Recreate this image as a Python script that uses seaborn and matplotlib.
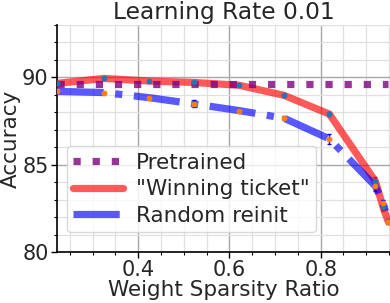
import numpy as np
import pandas as pd
import matplotlib
matplotlib.use("Agg")
import matplotlib.pyplot as plt
from matplotlib.ticker import MultipleLocator
import seaborn as sns

sparsity = [0.223, 0.325, 0.424, 0.522, 0.621, 0.72, 0.819, 0.92, 0.937, 0.948]
pretrained = [89.6] * 10
winning = [89.66, 89.94, 89.79, 89.71, 89.55, 88.97, 87.9, 84.05, 82.55, 81.75]
winning_err = [0.05, 0.05, 0.08, 0.06, 0.05, 0.07, 0.1, 0.25, 0.15, 0.15]
reinit = [89.2, 89.13, 88.84, 88.48, 88.1, 87.66, 86.48, 83.77, 82.82, 81.74]
reinit_err = [0.05, 0.06, 0.06, 0.2, 0.08, 0.1, 0.3, 0.3, 0.15, 0.12]

df = pd.DataFrame({
    "sparsity": sparsity,
    "pretrained": pretrained,
    "winning": winning,
    "reinit": reinit,
})

sns.set_style("whitegrid")
plt.rcParams["font.family"] = ["DejaVu Sans"]

fig = plt.figure(figsize=(3.9, 3.03), dpi=100)
ax = fig.add_axes([57 / 390, 51 / 303, 333 / 390, 227 / 303])

sns.lineplot(data=df, x="sparsity", y="winning", ax=ax, color="#ff0000", alpha=0.65,
             linewidth=5.2, label='"Winning ticket"', zorder=3)
sns.lineplot(data=df, x="sparsity", y="pretrained", ax=ax, color="#800080", alpha=0.8,
             linewidth=5.2, linestyle=":", label="Pretrained", zorder=4)
sns.lineplot(data=df, x="sparsity", y="reinit", ax=ax, color="#0000ff", alpha=0.65,
             linewidth=5.2, linestyle="-.", label="Random reinit", zorder=3)

ax.errorbar(df["sparsity"], df["winning"], yerr=winning_err, fmt="o", ms=3.2,
            color="#1f77b4", ecolor="#ff0000", capsize=1.5, elinewidth=1, zorder=5)
ax.errorbar(df["sparsity"], df["reinit"], yerr=reinit_err, fmt="o", ms=3.2,
            color="#ff7f0e", ecolor="#0000ff", capsize=1.5, elinewidth=1, zorder=5)

ax.set_xlim(0.222, 0.952)
ax.set_ylim(80, 93)
ax.xaxis.set_major_locator(MultipleLocator(0.2))
ax.xaxis.set_minor_locator(MultipleLocator(0.05))
ax.yaxis.set_major_locator(MultipleLocator(5))
ax.yaxis.set_minor_locator(MultipleLocator(1))
ax.grid(which="major", color="#a8a8a8", linewidth=1.0)
ax.grid(which="minor", color="#e0e0e0", linewidth=0.9)

ax.tick_params(axis="both", which="major", labelsize=15, length=4, width=1,
               color="black", bottom=True, left=True, direction="out", pad=2)
ax.tick_params(axis="both", which="minor", length=2.5, width=0.8,
               color="black", bottom=True, left=True, direction="out")

for side in ["top", "right"]:
    ax.spines[side].set_visible(False)
for side in ["left", "bottom"]:
    ax.spines[side].set_color("black")
    ax.spines[side].set_linewidth(1.2)

ax.set_title("Learning Rate 0.01", fontsize=16.8, pad=4)
ax.set_xlabel("Weight Sparsity Ratio", fontsize=15.5, labelpad=0)
ax.set_ylabel("Accuracy", fontsize=15.5, labelpad=1)

handles, labels = ax.get_legend_handles_labels()
order = [labels.index("Pretrained"), labels.index('"Winning ticket"'), labels.index("Random reinit")]
ax.legend([handles[i] for i in order], [labels[i] for i in order], loc="lower left",
          bbox_to_anchor=(0.03, 0.088), borderaxespad=0, fontsize=15.5, handlelength=2.3,
          framealpha=0.8, edgecolor="#d0d0d0", borderpad=0.3, labelspacing=0.3,
          handletextpad=0.6)

fig.savefig("out.png", dpi=100)
